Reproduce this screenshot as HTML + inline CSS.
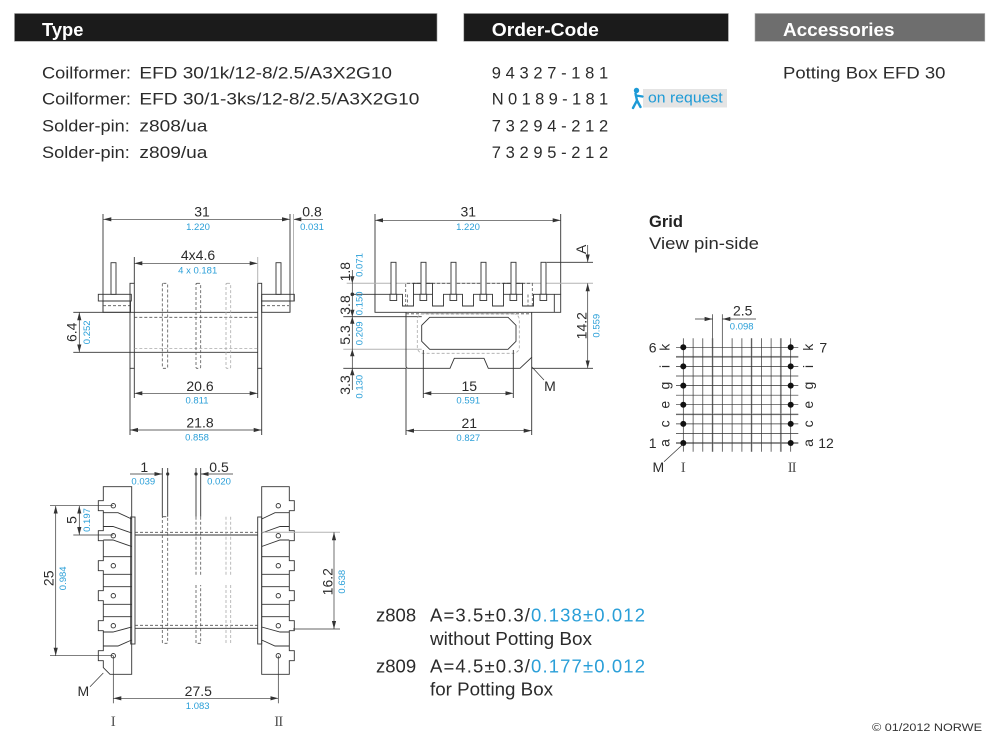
<!DOCTYPE html>
<html><head><meta charset="utf-8"><style>
html,body{margin:0;padding:0;background:#fff;width:998px;height:748px;overflow:hidden}
svg{display:block}
.l{stroke:#333;stroke-width:.9;fill:none}
.lf{stroke:#333;stroke-width:.9;fill:#fff}
.g{stroke:#b4b4b4;stroke-width:1;fill:none}
.d{stroke:#555;stroke-width:.8;fill:none;stroke-dasharray:3 2}
.dg{stroke:#aaa;stroke-width:.8;fill:none;stroke-dasharray:3 2}
.dim{stroke:#333;stroke-width:.7;fill:none;marker-start:url(#ar);marker-end:url(#ar)}
.t{font-size:14px;fill:#2b2b2b;text-anchor:middle}
.b{font-size:9.5px;fill:#2a9fd8;text-anchor:middle}
.tx{font-size:16.5px;fill:#2b2b2b}
.h{font-size:18px;font-weight:bold;fill:#fff}
.rn{font-family:"Liberation Serif",serif;font-size:15px;fill:#555;text-anchor:middle}
</style></head><body>
<svg width="998" height="748" viewBox="0 0 998 748" xmlns="http://www.w3.org/2000/svg" font-family="'Liberation Sans', Arial, sans-serif">
<defs>
<marker id="ar" viewBox="0 0 8 6" refX="8" refY="3" markerWidth="8" markerHeight="6" markerUnits="userSpaceOnUse" orient="auto-start-reverse"><path d="M0,0.9L8,3L0,5.1z" fill="#333"/></marker>
</defs>

<!-- Header bars -->
<rect x="14.5" y="13.5" width="422.5" height="27.8" fill="#1b1b1b" stroke="#9a9a9a" stroke-width=".6"/>
<rect x="463.8" y="13.5" width="264.6" height="27.8" fill="#1b1b1b" stroke="#9a9a9a" stroke-width=".6"/>
<rect x="755" y="13.5" width="229.8" height="27.8" fill="#6e6e6e" stroke="#aaa" stroke-width=".6"/>
<text class="h" x="42" y="36" textLength="41.4" lengthAdjust="spacingAndGlyphs">Type</text>
<text class="h" x="491.8" y="36" textLength="107" lengthAdjust="spacingAndGlyphs">Order-Code</text>
<text class="h" x="783" y="36" textLength="111.5" lengthAdjust="spacingAndGlyphs">Accessories</text>

<!-- Body text -->
<text class="tx" x="42" y="78.3" textLength="89" lengthAdjust="spacingAndGlyphs">Coilformer:</text>
<text class="tx" x="139.4" y="78.3" textLength="252.6" lengthAdjust="spacingAndGlyphs">EFD 30/1k/12-8/2.5/A3X2G10</text>
<text class="tx" x="42" y="104.7" textLength="89" lengthAdjust="spacingAndGlyphs">Coilformer:</text>
<text class="tx" x="139.4" y="104.7" textLength="280" lengthAdjust="spacingAndGlyphs">EFD 30/1-3ks/12-8/2.5/A3X2G10</text>
<text class="tx" x="42" y="131.5" textLength="87.8" lengthAdjust="spacingAndGlyphs">Solder-pin:</text>
<text class="tx" x="139.4" y="131.5" textLength="68" lengthAdjust="spacingAndGlyphs">z808/ua</text>
<text class="tx" x="42" y="158" textLength="87.8" lengthAdjust="spacingAndGlyphs">Solder-pin:</text>
<text class="tx" x="139.4" y="158" textLength="68" lengthAdjust="spacingAndGlyphs">z809/ua</text>

<text class="tx" x="491.8" y="78.3" textLength="116.4">94327-181</text>
<text class="tx" x="491.8" y="104.7" textLength="116.4">N0189-181</text>
<text class="tx" x="491.8" y="131.5" textLength="116.4">73294-212</text>
<text class="tx" x="491.8" y="158" textLength="116.4">73295-212</text>

<rect x="643" y="89" width="84" height="18.5" fill="#e4e4e4"/>
<text x="648" y="102.5" font-size="14.5" fill="#1d9ad6" textLength="74.7" lengthAdjust="spacingAndGlyphs">on request</text>
<circle cx="636.5" cy="90.5" r="2.7" fill="#1d9ad6"/>
<path d="M635.5,93.5 L637,100.5 L633,108 M637,100.5 L640.5,107 M635.8,95.5 L642.5,96.5" stroke="#1d9ad6" stroke-width="2.4" fill="none" stroke-linecap="round"/>

<text class="tx" x="783" y="78.3" textLength="162.4" lengthAdjust="spacingAndGlyphs">Potting Box EFD 30</text>

<!-- ============ LEFT DRAWING (side view) ============ -->
<line class="dim" x1="103.3" y1="219.3" x2="290" y2="219.3"/>
<text class="t" x="202" y="216.5">31</text>
<text class="b" x="198" y="230">1.220</text>
<line class="l" x1="293.3" y1="219.3" x2="323" y2="219.3" style="marker-start:url(#ar);stroke-width:.7"/>
<text class="t" x="312" y="216.5">0.8</text>
<text class="b" x="312" y="230">0.031</text>
<line class="l" x1="103" y1="214" x2="103" y2="312.3"/>
<line class="l" x1="290" y1="214" x2="290" y2="312.3"/>
<line class="g" x1="293.5" y1="214" x2="293.5" y2="300.5"/>

<rect class="l" x="98.3" y="294.3" width="33" height="6.7"/>
<rect class="l" x="103" y="301" width="27.5" height="11.3"/>
<line class="d" x1="103" y1="305.7" x2="130" y2="305.7"/>
<rect class="lf" x="111" y="262.7" width="5" height="31.6"/>
<rect class="l" x="261.7" y="294.3" width="32.6" height="6.7"/>
<rect class="l" x="261.7" y="301" width="28.3" height="11.3"/>
<line class="d" x1="262" y1="305.7" x2="289" y2="305.7"/>
<rect class="lf" x="276" y="262.7" width="5" height="31.6"/>

<rect class="l" x="130" y="283.3" width="4.3" height="85"/>
<rect class="l" x="257.7" y="283.3" width="4" height="85"/>
<line class="l" x1="73.3" y1="312.3" x2="257.7" y2="312.3"/>
<line class="l" x1="73.3" y1="352.3" x2="257.7" y2="352.3"/>
<line class="d" x1="134.3" y1="317.3" x2="257.7" y2="317.3"/>
<line class="dg" x1="134.3" y1="348.5" x2="257.7" y2="348.5"/>
<rect class="d" x="162.3" y="283.3" width="5.4" height="85" rx="1"/>
<rect class="d" x="196" y="283.3" width="4.7" height="85" rx="1"/>
<rect class="dg" x="226" y="283.3" width="4.7" height="85" rx="1"/>

<line class="dim" x1="134.3" y1="263.3" x2="257.7" y2="263.3"/>
<line class="l" x1="134.3" y1="257" x2="134.3" y2="283.3"/>
<line class="g" x1="257.7" y1="257" x2="257.7" y2="283.3"/>
<text class="t" x="198" y="260">4x4.6</text>
<text class="b" x="197.7" y="273.3">4 x 0.181</text>

<line class="dim" x1="79.3" y1="312.3" x2="79.3" y2="352.3"/>
<text class="t" transform="translate(71.7,332.3) rotate(-90)" dy="5">6.4</text>
<text class="b" transform="translate(86.7,332.3) rotate(-90)" dy="3.4">0.252</text>

<line class="l" x1="134.3" y1="368.3" x2="134.3" y2="398"/>
<line class="l" x1="257.7" y1="368.3" x2="257.7" y2="398"/>
<line class="dim" x1="134.3" y1="393.3" x2="257.7" y2="393.3"/>
<text class="t" x="200" y="391">20.6</text>
<text class="b" x="197" y="403.3">0.811</text>
<line class="l" x1="130" y1="368.3" x2="130" y2="435"/>
<line class="l" x1="261.7" y1="368.3" x2="261.7" y2="435"/>
<line class="dim" x1="130" y1="430" x2="261.7" y2="430"/>
<text class="t" x="200" y="427.7">21.8</text>
<text class="b" x="197" y="440.7">0.858</text>

<!-- ============ MIDDLE DRAWING ============ -->
<line class="dim" x1="375" y1="220.3" x2="560.7" y2="220.3"/>
<text class="t" x="468.3" y="216.5">31</text>
<text class="b" x="468" y="230">1.220</text>
<line class="l" x1="375" y1="214" x2="375" y2="312.3"/>
<line class="l" x1="560.7" y1="214" x2="560.7" y2="294.3"/>

<!-- extension lines -->
<line class="g" x1="346.7" y1="283.3" x2="593" y2="283.3"/>
<line class="l" x1="546.7" y1="262.3" x2="593" y2="262.3"/>
<line class="l" x1="352.3" y1="294.3" x2="375" y2="294.3"/>
<line class="l" x1="343.3" y1="316.7" x2="421.7" y2="316.7"/>
<line class="g" x1="343.3" y1="349.2" x2="421.7" y2="349.2"/>
<line class="l" x1="343.3" y1="368.3" x2="406" y2="368.3"/>
<line class="l" x1="531.7" y1="368.3" x2="593" y2="368.3"/>

<!-- potting outline above base -->
<path class="d" d="M405.7,312 V283.3 H532.3 V312"/>
<path class="l" d="M413.5,294.3 V283.3 H432.5 V294.3 M503.5,294.3 V283.3 H522.5 V294.3"/>
<!-- base -->
<path class="lf" d="M375,294.3 H402.5 V306 H413.5 V294.3 H432.5 V306 H443.5 V294.3 H462.5 V306 H473.5 V294.3 H492.5 V306 H503.5 V294.3 H522.5 V306 H533.5 V294.3 H560.7 V312.3 H375 Z"/>
<line class="l" x1="554.3" y1="294.3" x2="554.3" y2="312.3"/>
<line class="d" x1="407.5" y1="294.5" x2="407.5" y2="306"/>
<line class="d" x1="528" y1="294.5" x2="528" y2="306"/>
<!-- pins -->
<g class="lf">
<rect x="391" y="262.3" width="5" height="32"/><rect x="390" y="294.3" width="6.7" height="6.2"/>
<rect x="421" y="262.3" width="5" height="32"/><rect x="420" y="294.3" width="6.7" height="6.2"/>
<rect x="451" y="262.3" width="5" height="32"/><rect x="450" y="294.3" width="6.7" height="6.2"/>
<rect x="481" y="262.3" width="5" height="32"/><rect x="480" y="294.3" width="6.7" height="6.2"/>
<rect x="511" y="262.3" width="5" height="32"/><rect x="510" y="294.3" width="6.7" height="6.2"/>
<rect x="541" y="262.3" width="5" height="32"/><rect x="540" y="294.3" width="6.7" height="6.2"/>
</g>
<!-- lower housing -->
<path class="l" d="M406,312.3 V366 Q406,368.3 408.3,368.3 H450 L454.3,358.3 H484 L488.3,368.3 H520 L531.7,357.3 V312.3"/>
<line class="d" x1="406" y1="313.8" x2="531.7" y2="313.8"/>
<rect class="dg" x="417.3" y="313.7" width="102" height="39.6" rx="6"/>
<path class="l" d="M429.7,317.3 H508 L516,325.3 V341.3 L508,349.3 H429.7 L421.7,341.3 V325.3 Z"/>

<!-- 14.2 and A -->
<line class="l" x1="587.7" y1="245" x2="587.7" y2="262.3" style="stroke-width:.7;marker-end:url(#ar)"/>
<line class="dim" x1="587.7" y1="283.3" x2="587.7" y2="368.3"/>
<text class="t" transform="translate(581,249.3) rotate(-90)" dy="5">A</text>
<text class="t" transform="translate(581.7,325.7) rotate(-90)" dy="5">14.2</text>
<text class="b" transform="translate(596,325.7) rotate(-90)" dy="3.4">0.559</text>

<!-- left stacked dims -->
<line class="l" x1="352.3" y1="270" x2="352.3" y2="390" style="stroke-width:.7"/>
<path d="M352.3,283.3 l-2.2,-7 h4.4z M352.3,316.7 l-2.2,7 h4.4z M352.3,349.2 l-2.2,7 h4.4z M352.3,368.3 l-2.2,7 h4.4z M352.3,316.7 l-2.2,-7 h4.4z" fill="#333"/>
<circle cx="352.3" cy="294.3" r="1.8" fill="#333"/>
<text class="t" transform="translate(345,271.7) rotate(-90)" dy="5">1.8</text>
<text class="b" transform="translate(359.3,265) rotate(-90)" dy="3.4">0.071</text>
<text class="t" transform="translate(345,305) rotate(-90)" dy="5">3.8</text>
<text class="b" transform="translate(359.3,303.3) rotate(-90)" dy="3.4">0.150</text>
<text class="t" transform="translate(345,335) rotate(-90)" dy="5">5.3</text>
<text class="b" transform="translate(359.3,333.3) rotate(-90)" dy="3.4">0.209</text>
<text class="t" transform="translate(345,385) rotate(-90)" dy="5">3.3</text>
<text class="b" transform="translate(359.3,386.7) rotate(-90)" dy="3.4">0.130</text>

<!-- 15 / 21 -->
<line class="l" x1="423.3" y1="350" x2="423.3" y2="398"/>
<line class="l" x1="513.3" y1="350" x2="513.3" y2="398"/>
<line class="dim" x1="423.3" y1="393.3" x2="513.3" y2="393.3"/>
<text class="t" x="469.3" y="391">15</text>
<text class="b" x="468.3" y="403.3">0.591</text>
<line class="l" x1="406" y1="368.3" x2="406" y2="435"/>
<line class="l" x1="531.7" y1="357.3" x2="531.7" y2="435"/>
<line class="dim" x1="406" y1="430.7" x2="531.7" y2="430.7"/>
<text class="t" x="469.3" y="428">21</text>
<text class="b" x="468.3" y="441">0.827</text>
<line class="l" x1="531.7" y1="366.7" x2="544" y2="380" style="stroke-width:.7"/>
<text class="t" x="550" y="391">M</text>

<!-- ============ GRID ============ -->
<text x="649" y="227" font-size="16.5" font-weight="bold" fill="#222">Grid</text>
<text x="649" y="249" font-size="16.5" fill="#2b2b2b" textLength="110" lengthAdjust="spacingAndGlyphs">View pin-side</text>

<g stroke="#c4c4c4" stroke-width="2" fill="none">
<line x1="712.6" y1="338.3" x2="712.6" y2="451.7"/>
<line x1="751.6" y1="338.3" x2="751.6" y2="451.7"/>
<line x1="780.9" y1="338.3" x2="780.9" y2="451.7"/>
<line x1="676" y1="356.9" x2="798.3" y2="356.9"/>
<line x1="676" y1="414.3" x2="798.3" y2="414.3"/>
<line x1="676" y1="443" x2="798.3" y2="443"/>
</g>
<g stroke="#333" stroke-width=".7" fill="none">
<line x1="683.3" y1="338.3" x2="683.3" y2="451.7"/>
<line x1="693.1" y1="338.3" x2="693.1" y2="451.7"/>
<line x1="702.8" y1="338.3" x2="702.8" y2="451.7"/>
<line x1="712.6" y1="314.3" x2="712.6" y2="451.7"/>
<line x1="722.3" y1="314.3" x2="722.3" y2="451.7"/>
<line x1="732.1" y1="338.3" x2="732.1" y2="451.7"/>
<line x1="741.9" y1="338.3" x2="741.9" y2="451.7"/>
<line x1="751.6" y1="338.3" x2="751.6" y2="451.7"/>
<line x1="761.4" y1="338.3" x2="761.4" y2="451.7"/>
<line x1="771.1" y1="338.3" x2="771.1" y2="451.7"/>
<line x1="780.9" y1="338.3" x2="780.9" y2="451.7"/>
<line x1="790.7" y1="338.3" x2="790.7" y2="451.7"/>
<line x1="676" y1="347.3" x2="798.3" y2="347.3"/>
<line x1="676" y1="356.9" x2="798.3" y2="356.9"/>
<line x1="676" y1="366.4" x2="798.3" y2="366.4"/>
<line x1="676" y1="376" x2="798.3" y2="376"/>
<line x1="676" y1="385.6" x2="798.3" y2="385.6"/>
<line x1="676" y1="395.2" x2="798.3" y2="395.2"/>
<line x1="676" y1="404.7" x2="798.3" y2="404.7"/>
<line x1="676" y1="414.3" x2="798.3" y2="414.3"/>
<line x1="676" y1="423.9" x2="798.3" y2="423.9"/>
<line x1="676" y1="433.4" x2="798.3" y2="433.4"/>
<line x1="676" y1="443" x2="798.3" y2="443"/>
</g>
<g fill="#111">
<circle cx="683.3" cy="347.3" r="3"/><circle cx="683.3" cy="366.4" r="3"/><circle cx="683.3" cy="385.6" r="3"/>
<circle cx="683.3" cy="404.7" r="3"/><circle cx="683.3" cy="423.9" r="3"/><circle cx="683.3" cy="443" r="3"/>
<circle cx="790.7" cy="347.3" r="3"/><circle cx="790.7" cy="366.4" r="3"/><circle cx="790.7" cy="385.6" r="3"/>
<circle cx="790.7" cy="404.7" r="3"/><circle cx="790.7" cy="423.9" r="3"/><circle cx="790.7" cy="443" r="3"/>
</g>
<line class="l" x1="695" y1="319" x2="712.6" y2="319" style="stroke-width:.7;marker-end:url(#ar)"/>
<line class="l" x1="722.3" y1="319" x2="756" y2="319" style="stroke-width:.7;marker-start:url(#ar)"/>
<text class="t" x="742.7" y="315.5">2.5</text>
<text class="b" x="741.7" y="329.7">0.098</text>

<text class="t" x="652.7" y="352.3">6</text>
<text class="t" x="652.7" y="448">1</text>
<text class="t" x="823.3" y="352.3">7</text>
<text class="t" x="826" y="448">12</text>
<g class="t">
<text transform="translate(665,347.3) rotate(-90)" dy="4.5">k</text>
<text transform="translate(665,366.4) rotate(-90)" dy="4.5">i</text>
<text transform="translate(665,385.6) rotate(-90)" dy="4.5">g</text>
<text transform="translate(665,404.7) rotate(-90)" dy="4.5">e</text>
<text transform="translate(665,423.9) rotate(-90)" dy="4.5">c</text>
<text transform="translate(665,443) rotate(-90)" dy="4.5">a</text>
<text transform="translate(808.3,347.3) rotate(-90)" dy="4.5">k</text>
<text transform="translate(808.3,366.4) rotate(-90)" dy="4.5">i</text>
<text transform="translate(808.3,385.6) rotate(-90)" dy="4.5">g</text>
<text transform="translate(808.3,404.7) rotate(-90)" dy="4.5">e</text>
<text transform="translate(808.3,423.9) rotate(-90)" dy="4.5">c</text>
<text transform="translate(808.3,443) rotate(-90)" dy="4.5">a</text>
</g>
<line class="l" x1="664" y1="461.7" x2="683.3" y2="444" style="stroke-width:.7"/>
<text class="t" x="658.3" y="472">M</text>
<text class="rn" x="683.3" y="472">I</text>
<text class="rn" x="791.7" y="472" letter-spacing="-1">II</text>

<!-- ============ BOTTOM DRAWING ============ -->
<!-- left block -->
<path class="l" d="M131.7,486.7 H103.3 V500.7 H98.3 V510.7 H103.3 V530.7 H98.3 V540.7 H103.3 V560.7 H98.3 V570.7 H103.3 V590.7 H98.3 V600.7 H103.3 V620.7 H98.3 V630.7 H103.3 V650.7 H98.3 V660.7 H103.3 V667.6 L110,674.3 H131.7 Z"/>
<path class="l" d="M103.3,512.7 H118 L131.7,519 M103.3,526.5 H113 L131.7,533 M103.3,540 H113 L131.7,546.5 M103.3,556.7 H131.7 M103.3,574.3 H131.7 M103.3,586.7 H131.7 M103.3,604.3 H131.7 M103.3,616.7 H131.7 M103.3,632 H113 L131.7,627 M103.3,646 H118 L131.7,640"/>
<rect class="l" x="130.7" y="517" width="4.3" height="127"/>
<g class="l">
<circle cx="113.3" cy="505.7" r="2.2"/><circle cx="113.3" cy="535.7" r="2.2"/><circle cx="113.3" cy="565.7" r="2.2"/>
<circle cx="113.3" cy="595.7" r="2.2"/><circle cx="113.3" cy="625.7" r="2.2"/><circle cx="113.3" cy="655.7" r="2.2"/>
</g>
<!-- right block -->
<path class="l" d="M261.7,486.7 H289.3 V500.7 H294.3 V510.7 H289.3 V530.7 H294.3 V540.7 H289.3 V560.7 H294.3 V570.7 H289.3 V590.7 H294.3 V600.7 H289.3 V620.7 H294.3 V630.7 H289.3 V650.7 H294.3 V660.7 H289.3 V674.3 H261.7 Z"/>
<path class="l" d="M289.3,512.7 H275 L261.7,519 M289.3,526.5 H280 L261.7,533 M289.3,540 H280 L261.7,546.5 M289.3,556.7 H261.7 M289.3,574.3 H261.7 M289.3,586.7 H261.7 M289.3,604.3 H261.7 M289.3,616.7 H261.7 M289.3,632 H280 L261.7,627 M289.3,646 H275 L261.7,640"/>
<rect class="l" x="257.7" y="517" width="4" height="127"/>
<g class="l">
<circle cx="278.3" cy="505.7" r="2.2"/><circle cx="278.3" cy="535.7" r="2.2"/><circle cx="278.3" cy="565.7" r="2.2"/>
<circle cx="278.3" cy="595.7" r="2.2"/><circle cx="278.3" cy="625.7" r="2.2"/><circle cx="278.3" cy="655.7" r="2.2"/>
</g>
<!-- core -->
<line class="l" x1="135" y1="535" x2="257.7" y2="535"/>
<line class="l" x1="135" y1="628.3" x2="257.7" y2="628.3"/>
<line class="d" x1="135" y1="532.3" x2="257.7" y2="532.3"/>
<line class="d" x1="135" y1="625.3" x2="257.7" y2="625.3"/>
<rect class="d" x="162.3" y="516.7" width="5.4" height="126.6" rx="1"/>
<path class="d" d="M196,516.7 V575 M200.7,516.7 V575 M196,585 V643.3 H200.7 V585"/>
<path class="dg" d="M226,516.7 V575 M230.7,516.7 V575 M226,585 V643.3 M230.7,585 V643.3"/>
<line class="l" x1="162.3" y1="468" x2="162.3" y2="516.7"/>
<line class="l" x1="167.7" y1="468" x2="167.7" y2="516.7"/>
<line class="l" x1="196" y1="468" x2="196" y2="516.7"/>
<line class="l" x1="200.7" y1="468" x2="200.7" y2="516.7"/>
<line class="l" x1="130" y1="474" x2="162.3" y2="474" style="stroke-width:.7;marker-end:url(#ar)"/>
<circle cx="167.7" cy="474" r="1.6" fill="#333"/>
<line class="l" x1="200.7" y1="474" x2="233" y2="474" style="stroke-width:.7;marker-start:url(#ar)"/>
<circle cx="196" cy="474" r="1.6" fill="#333"/>
<text class="t" x="144.3" y="472">1</text>
<text class="b" x="143.3" y="484.5">0.039</text>
<text class="t" x="219" y="472">0.5</text>
<text class="b" x="219" y="484.5">0.020</text>

<!-- 5 / 25 -->
<line class="l" x1="50" y1="505.7" x2="113.3" y2="505.7" style="stroke-width:.7"/>
<line class="l" x1="73.3" y1="535" x2="113.3" y2="535" style="stroke-width:.7"/>
<line class="l" x1="50" y1="655.7" x2="113.3" y2="655.7" style="stroke-width:.7"/>
<line class="dim" x1="79.3" y1="505.7" x2="79.3" y2="535"/>
<line class="dim" x1="55.7" y1="505.7" x2="55.7" y2="655.7"/>
<text class="t" transform="translate(71.7,520) rotate(-90)" dy="5">5</text>
<text class="b" transform="translate(86.7,520) rotate(-90)" dy="3.4">0.197</text>
<text class="t" transform="translate(48.3,578.3) rotate(-90)" dy="5">25</text>
<text class="b" transform="translate(62.7,578.3) rotate(-90)" dy="3.4">0.984</text>

<!-- 16.2 -->
<line class="g" x1="261.7" y1="532.3" x2="340" y2="532.3"/>
<line class="l" x1="293" y1="629" x2="340" y2="629" style="stroke-width:.7"/>
<line class="dim" x1="334" y1="532.3" x2="334" y2="629"/>
<text class="t" transform="translate(327.7,581.7) rotate(-90)" dy="5">16.2</text>
<text class="b" transform="translate(341.7,581.7) rotate(-90)" dy="3.4">0.638</text>

<!-- 27.5 -->
<line class="l" x1="113.3" y1="655.7" x2="113.3" y2="703.3" style="stroke-width:.7"/>
<line class="l" x1="278.3" y1="655.7" x2="278.3" y2="703.3" style="stroke-width:.7"/>
<line class="dim" x1="113.3" y1="698.3" x2="278.3" y2="698.3"/>
<text class="t" x="198.3" y="696">27.5</text>
<text class="b" x="197.7" y="709">1.083</text>
<text class="rn" x="113.3" y="726">I</text>
<text class="rn" x="278.3" y="726" letter-spacing="-1">II</text>
<line class="l" x1="90" y1="686.7" x2="103.3" y2="673" style="stroke-width:.7"/>
<text class="t" x="83.3" y="696">M</text>

<!-- bottom notes -->
<g font-size="18.5" fill="#2b2b2b">
<text x="376" y="621.7">z808</text>
<text x="430" y="621.7" textLength="215" lengthAdjust="spacing">A=3.5±0.3/<tspan fill="#2a9fd8">0.138±0.012</tspan></text>
<text x="430" y="645" textLength="162" lengthAdjust="spacingAndGlyphs">without Potting Box</text>
<text x="376" y="672.7">z809</text>
<text x="430" y="672.7" textLength="215" lengthAdjust="spacing">A=4.5±0.3/<tspan fill="#2a9fd8">0.177±0.012</tspan></text>
<text x="430" y="695.5" textLength="123" lengthAdjust="spacingAndGlyphs">for Potting Box</text>
</g>

<text x="872" y="731" font-size="11" fill="#333" textLength="110" lengthAdjust="spacingAndGlyphs">© 01/2012 NORWE</text>
</svg>
</body></html>
